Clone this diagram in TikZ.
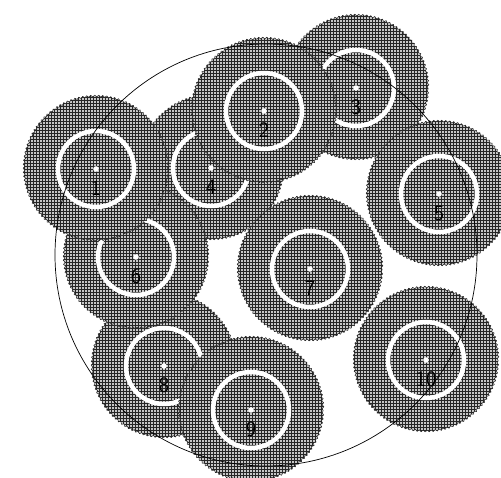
\documentclass[tikz,border=0pt]{standalone}
\usetikzlibrary{patterns,decorations.pathmorphing}
\tikzset{
  discbody/.style={draw=black!85, line width=0.5pt, fill=black!22,
    postaction={pattern=grid, pattern color=black!85},
    decorate, decoration={snake, segment length=4.003pt, amplitude=0.9pt}},
  ring/.style={draw=white, line width=4.5pt},
  hub/.style={fill=white},
  num/.style={text=black, font=\fontsize{22}{22}\selectfont\sffamily, inner sep=0pt},
  outer/.style={draw=black, line width=0.7pt},
}
\newcommand\mydisc[4]{%
  \path[discbody] (#2,#3) circle[radius=72pt];
  \draw[ring] (#2,#3) circle[radius=38pt];
  \fill[hub] (#2,#3) circle[radius=2.8pt];
  \node[num] (n#1) at (#2,#3+19) {#4};
}
\begin{document}
\begin{tikzpicture}[x=1pt,y=-1pt]
\useasboundingbox (0,0) rectangle (501,478);
\mydisc{3}{356}{88}{3}
\mydisc{4}{211}{168}{4}
\mydisc{8}{164}{366}{8}
\mydisc{6}{136}{257}{6}
\mydisc{1}{96}{169}{1}
\mydisc{2}{264}{111}{2}
\mydisc{5}{439}{194}{5}
\mydisc{7}{310}{269}{7}
\mydisc{9}{251}{410}{9}
\mydisc{10}{426}{360}{10}
\draw[outer] (266,255) circle[radius=211pt];
\end{tikzpicture}
\end{document}
